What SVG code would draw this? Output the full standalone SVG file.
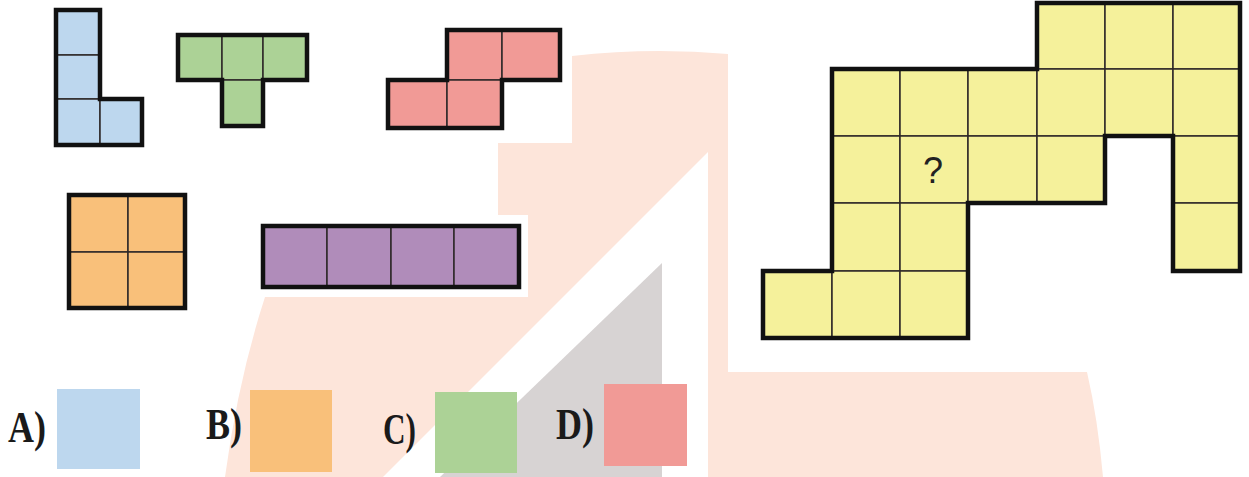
<svg xmlns="http://www.w3.org/2000/svg" width="1249" height="477" viewBox="0 0 1249 477">
<style>
.cell{stroke:#2e2828;stroke-width:1.5}
.out{fill:none;stroke:#111;stroke-width:4.5;stroke-linejoin:miter}
.blue{fill:#bdd7ee}.green{fill:#acd296}.red{fill:#f19a96}.orange{fill:#f9c07a}.purple{fill:#b08cba}.yellow{fill:#f5f19b}
.lbl{font-family:"Liberation Serif",serif;font-weight:bold;font-size:44px;fill:#1a1a1a}
</style>
<rect width="1249" height="477" fill="#ffffff"/>
<g id="watermark">
<path d="M572,56 Q650,47 728,54 L728,372 L1087,372 Q1098,420 1103,477 L225,477 Q238,380 265,297 L528,297 L528,215 L498,215 L498,143 L572,143 Z" fill="#fde5da"/>
<polygon points="708,152 708,477 383,477" fill="#ffffff"/>
<polygon points="662,263 662,477 440,477" fill="#d7d3d3"/>
</g>
<g id="piece-L">
<rect class="cell blue" x="56" y="10" width="44" height="45"/>
<rect class="cell blue" x="56" y="55" width="44" height="44"/>
<rect class="cell blue" x="56" y="99" width="44" height="46"/>
<rect class="cell blue" x="100" y="99" width="42" height="46"/>
<path class="out" d="M56,10 H100 V99 H142 V145 H56 Z"/>
</g>
<g id="piece-T">
<rect class="cell green" x="178" y="35" width="44" height="45"/>
<rect class="cell green" x="222" y="35" width="41" height="45"/>
<rect class="cell green" x="263" y="35" width="44" height="45"/>
<rect class="cell green" x="222" y="80" width="41" height="46"/>
<path class="out" d="M178,35 H307 V80 H263 V126 H222 V80 H178 Z"/>
</g>
<g id="piece-S">
<rect class="cell red" x="447" y="30" width="55" height="50"/>
<rect class="cell red" x="502" y="30" width="58" height="50"/>
<rect class="cell red" x="388" y="80" width="59" height="48"/>
<rect class="cell red" x="447" y="80" width="55" height="48"/>
<path class="out" d="M447,30 H560 V80 H502 V128 H388 V80 H447 Z"/>
</g>
<g id="piece-O">
<rect class="cell orange" x="69" y="195" width="59" height="57"/>
<rect class="cell orange" x="128" y="195" width="57" height="57"/>
<rect class="cell orange" x="69" y="252" width="59" height="56"/>
<rect class="cell orange" x="128" y="252" width="57" height="56"/>
<path class="out" d="M69,195 H185 V308 H69 Z"/>
</g>
<g id="piece-I">
<rect class="cell purple" x="263" y="226" width="64" height="61"/>
<rect class="cell purple" x="327" y="226" width="64" height="61"/>
<rect class="cell purple" x="391" y="226" width="63" height="61"/>
<rect class="cell purple" x="454" y="226" width="65" height="61"/>
<path class="out" d="M263,226 H519 V287 H263 Z"/>
</g>
<g id="board">
<rect class="cell yellow" x="1037" y="3" width="68" height="66"/>
<rect class="cell yellow" x="1105" y="3" width="68" height="66"/>
<rect class="cell yellow" x="1173" y="3" width="67" height="66"/>
<rect class="cell yellow" x="832" y="69" width="68" height="67"/>
<rect class="cell yellow" x="900" y="69" width="68" height="67"/>
<rect class="cell yellow" x="968" y="69" width="69" height="67"/>
<rect class="cell yellow" x="1037" y="69" width="68" height="67"/>
<rect class="cell yellow" x="1105" y="69" width="68" height="67"/>
<rect class="cell yellow" x="1173" y="69" width="67" height="67"/>
<rect class="cell yellow" x="832" y="136" width="68" height="67"/>
<rect class="cell yellow" x="900" y="136" width="68" height="67"/>
<rect class="cell yellow" x="968" y="136" width="69" height="67"/>
<rect class="cell yellow" x="1037" y="136" width="68" height="67"/>
<rect class="cell yellow" x="1173" y="136" width="67" height="67"/>
<rect class="cell yellow" x="832" y="203" width="68" height="68"/>
<rect class="cell yellow" x="900" y="203" width="68" height="68"/>
<rect class="cell yellow" x="1173" y="203" width="67" height="68"/>
<rect class="cell yellow" x="763" y="271" width="69" height="67"/>
<rect class="cell yellow" x="832" y="271" width="68" height="67"/>
<rect class="cell yellow" x="900" y="271" width="68" height="67"/>
<path class="out" d="M763,271 H832 V69 H1037 V3 H1240 V271 H1173 V136 H1105 V203 H968 V338 H763 Z"/>
<text x="933" y="183" text-anchor="middle" font-family="Liberation Sans, Arial, sans-serif" font-size="36" fill="#222">?</text>
</g>
<g id="option-A">
<text class="lbl" x="8" y="442" textLength="38" lengthAdjust="spacingAndGlyphs">A)</text>
<rect class="blue" x="57" y="389" width="83" height="80"/>
</g>
<g id="option-B">
<text class="lbl" x="206" y="439" textLength="36" lengthAdjust="spacingAndGlyphs">B)</text>
<rect class="orange" x="250" y="390" width="82" height="82"/>
</g>
<g id="option-C">
<text class="lbl" x="383" y="444" textLength="33" lengthAdjust="spacingAndGlyphs">C)</text>
<rect class="green" x="435" y="392" width="82" height="81"/>
</g>
<g id="option-D">
<text class="lbl" x="556" y="439" textLength="38" lengthAdjust="spacingAndGlyphs">D)</text>
<rect class="red" x="604" y="384" width="83" height="82"/>
</g>
<g id="connectors"/>
</svg>
